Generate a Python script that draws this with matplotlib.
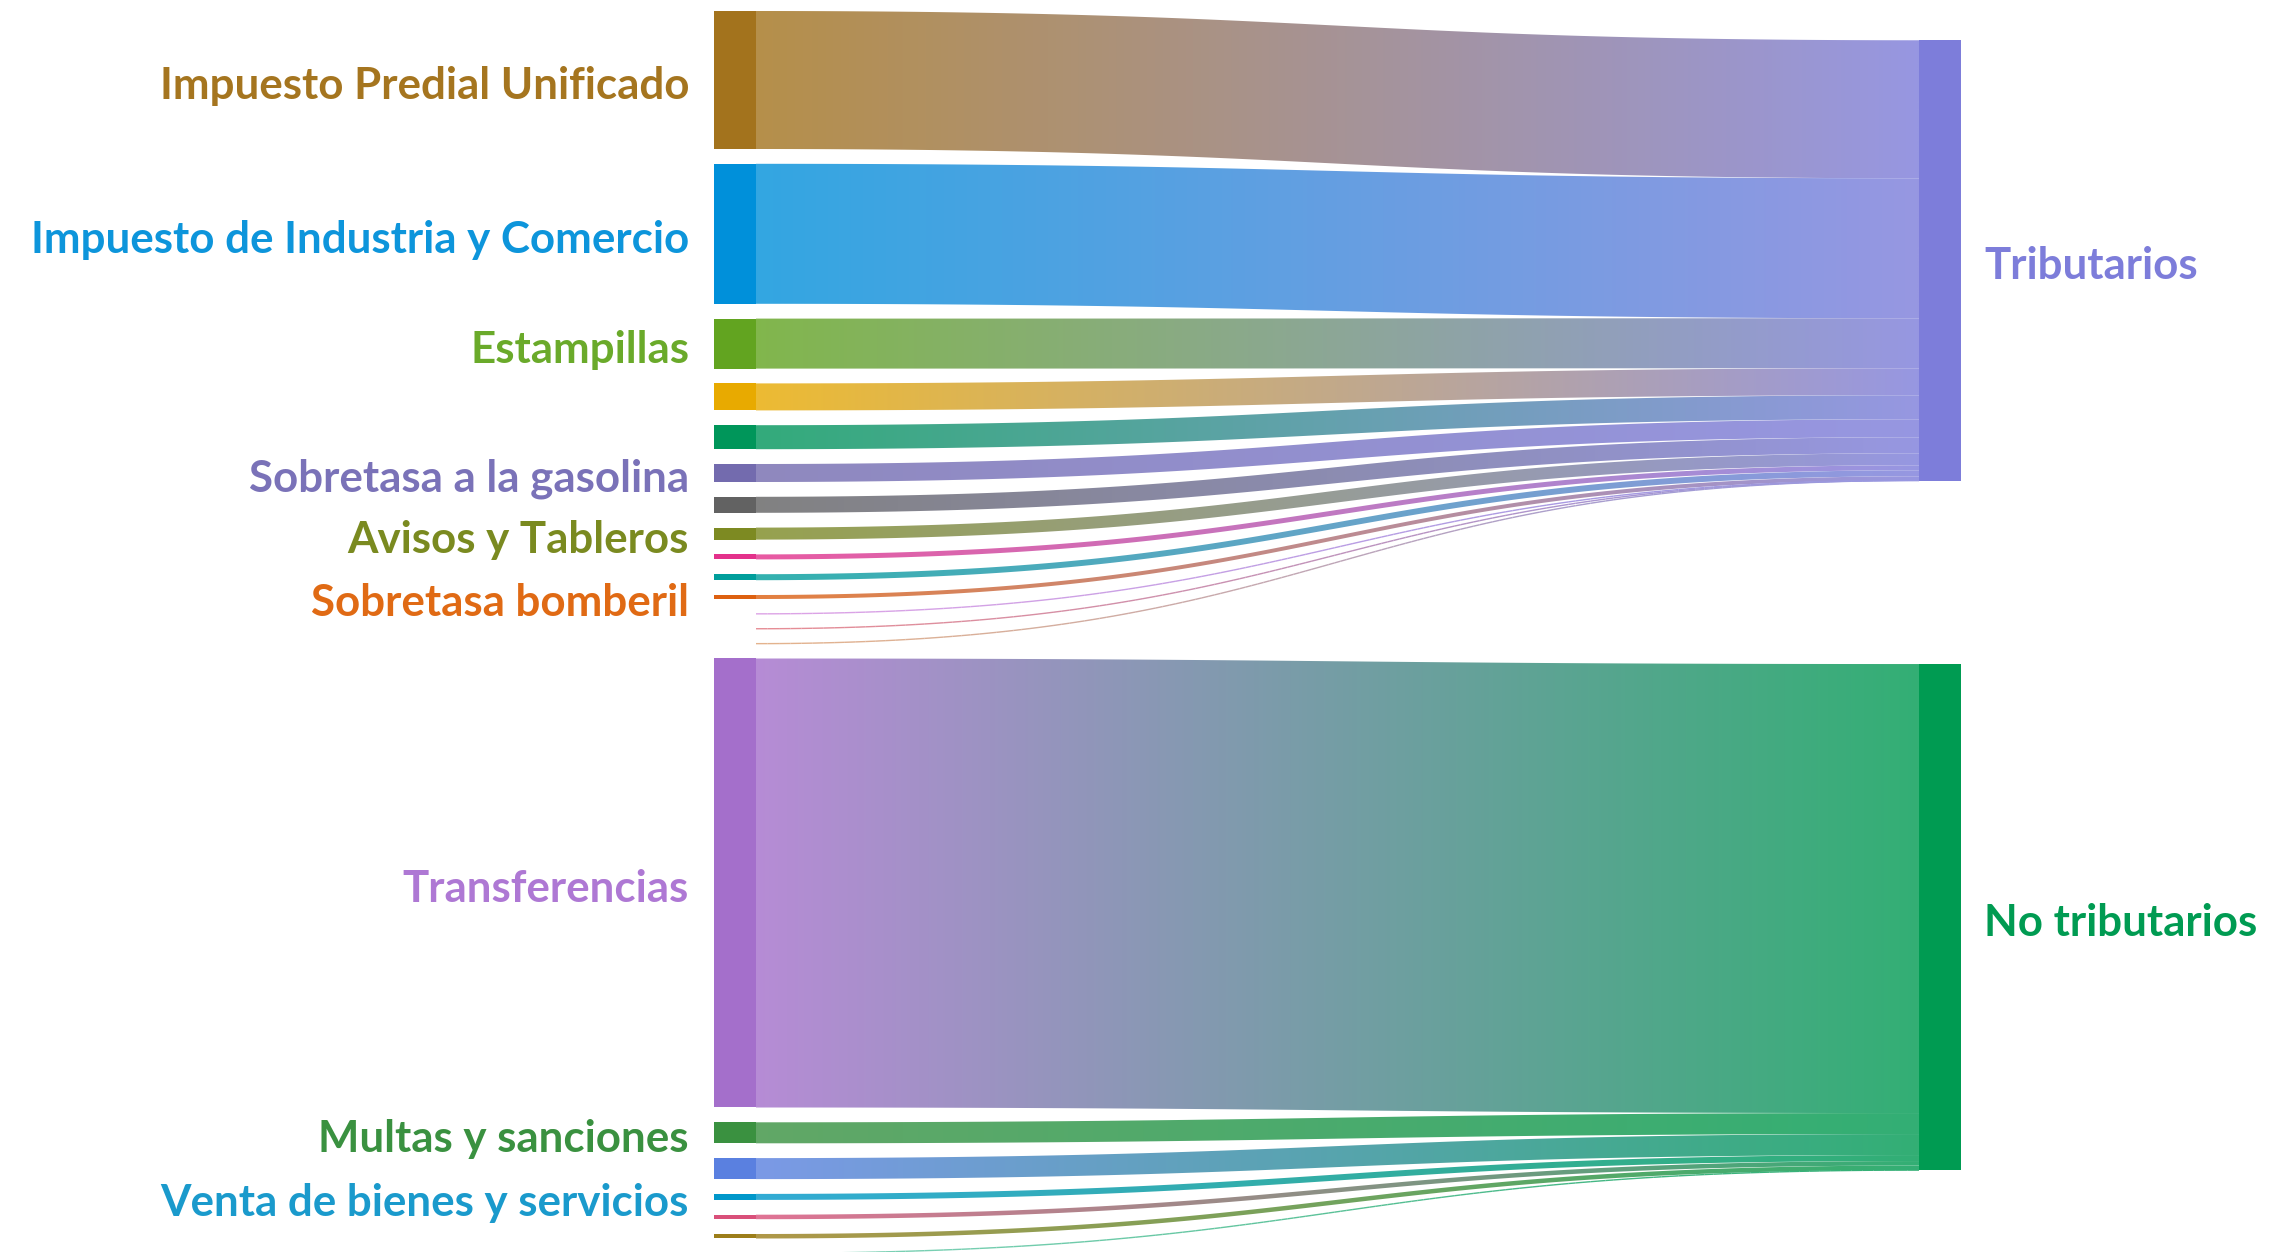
import matplotlib.pyplot as plt
import numpy as np
from matplotlib.patches import Rectangle, PathPatch
from matplotlib.path import Path
from matplotlib.collections import LineCollection
from matplotlib.colors import to_rgb

plt.rcParams['font.family'] = ['Lato', 'DejaVu Sans']

# fuentes de ingreso (columna izquierda), de arriba hacia abajo
# valores estimados a partir de la figura (unidades relativas)
etiquetas = [
    'Impuesto Predial Unificado', 'Impuesto de Industria y Comercio', 'Estampillas',
    '', '', 'Sobretasa a la gasolina', '', 'Avisos y Tableros', '', '',
    'Sobretasa bomberil', '', '', '',
    'Transferencias', 'Multas y sanciones', '', 'Venta de bienes y servicios',
    '', '', '',
]
valores = [138, 140, 50, 27, 24, 18, 16, 12, 5, 6, 4, 0.1, 0.1, 0.1,
           449, 21, 21, 6, 4.5, 4.5, 0.1]
destino = [0] * 14 + [1] * 7
colores = [
    '#A3731D', '#0090DA', '#62A420', '#E8AA00', '#00965A', '#736BAE', '#626262',
    '#7D8A22', '#E3318B', '#009E9B', '#DD6010', '#D58DE0', '#E0707A', '#DDA070',
    '#A46FCB', '#3A9140', '#5A80E0', '#0097CA', '#D9507A', '#9C7E1A', '#60C8A8',
]
colores_texto = [
    '#A5751F', '#0D95DB', '#6AAA2A', None, None, '#7A72B8', None, '#7A8A20', None, None,
    '#E06A14', None, None, None,
    '#AE78D4', '#3A9140', None, '#1A9ACC', None, None, None,
]

grupos = ['Tributarios', 'No tributarios']
colores_grupo = ['#7D7DDA', '#009B52']

# ---- disposicion ----
W, H = 2271, 1252
x_izq, x_der, ancho_nodo = 714, 1919, 42
pad = 14.8
y_inicio = 11
k = 1.0
centros_der = [0.208 * H, 0.7325 * H]
tam = 31.6


def claro(c, a=0.8):
    return np.array(to_rgb(c)) * a + (1 - a)


fig = plt.figure(figsize=(W / 100, H / 100), dpi=100)
ax = fig.add_axes([0, 0, 1, 1])

# nodos izquierdos
tops = []
y = y_inicio
for v in valores:
    tops.append(y)
    y += v * k + pad

# nodos derechos
tot_der = [sum(v for v, d in zip(valores, destino) if d == g) for g in range(2)]
tops_der = [c - t * k / 2 for c, t in zip(centros_der, tot_der)]
cursor_der = list(tops_der)

x0 = x_izq + ancho_nodo
x1 = x_der
xm = (x0 + x1) / 2
t = np.linspace(0, 1, 150)


def bezier(ya, yb):
    bx = (1 - t) ** 3 * x0 + 3 * (1 - t) ** 2 * t * xm + 3 * (1 - t) * t ** 2 * xm + t ** 3 * x1
    by = (1 - t) ** 3 * ya + 3 * (1 - t) ** 2 * t * ya + 3 * (1 - t) * t ** 2 * yb + t ** 3 * yb
    return bx, by


for i, v in enumerate(valores):
    g = destino[i]
    h = v * k
    ys = tops[i]
    yt = cursor_der[g]
    cursor_der[g] += h

    bx, by_top = bezier(ys, yt)
    _, by_bot = bezier(ys + h, yt + h)
    verts = np.concatenate([np.column_stack([bx, by_top]),
                            np.column_stack([bx[::-1], by_bot[::-1]]),
                            [[bx[0], by_top[0]]]])
    patch = PathPatch(Path(verts, closed=True), facecolor='none', edgecolor='none')
    ax.add_patch(patch)

    c0, c1 = claro(colores[i]), claro(colores_grupo[g])
    grad = np.linspace(0, 1, 256)[:, None] * (c1 - c0) + c0
    img = ax.imshow(grad[None, :, :], extent=(x0, x1, max(ys, yt) + h + 1, min(ys, yt) - 1),
                    aspect='auto', interpolation='bilinear', zorder=1)
    img.set_clip_path(patch)

    if h < 2.5:
        cx, cy = bezier(ys + h / 2, yt + h / 2)
        pts = np.column_stack([cx, cy]).reshape(-1, 1, 2)
        segs = np.concatenate([pts[:-1], pts[1:]], axis=1)
        cols = np.linspace(0, 1, len(segs))[:, None] * (c1 - c0) + c0
        ax.add_collection(LineCollection(segs, colors=cols, linewidths=1.0, zorder=1))

    ax.add_patch(Rectangle((x_izq, ys), ancho_nodo, h, facecolor=colores[i],
                           edgecolor='none', zorder=2))

    if etiquetas[i]:
        ax.text(x_izq - 25, ys + h / 2 + 6, etiquetas[i], ha='right', va='center',
                fontsize=tam, fontweight='bold', color=colores_texto[i])

for g in range(2):
    ax.add_patch(Rectangle((x_der, tops_der[g]), ancho_nodo, tot_der[g] * k,
                           facecolor=colores_grupo[g], edgecolor='none', zorder=2))
    ax.text(x_der + ancho_nodo + 23, tops_der[g] + tot_der[g] * k / 2 + 6, grupos[g],
            ha='left', va='center', fontsize=tam, fontweight='bold', color=colores_grupo[g])

ax.set_xlim(0, W)
ax.set_ylim(H, 0)
ax.axis('off')

fig.savefig('out.png', dpi=100, facecolor='white')
